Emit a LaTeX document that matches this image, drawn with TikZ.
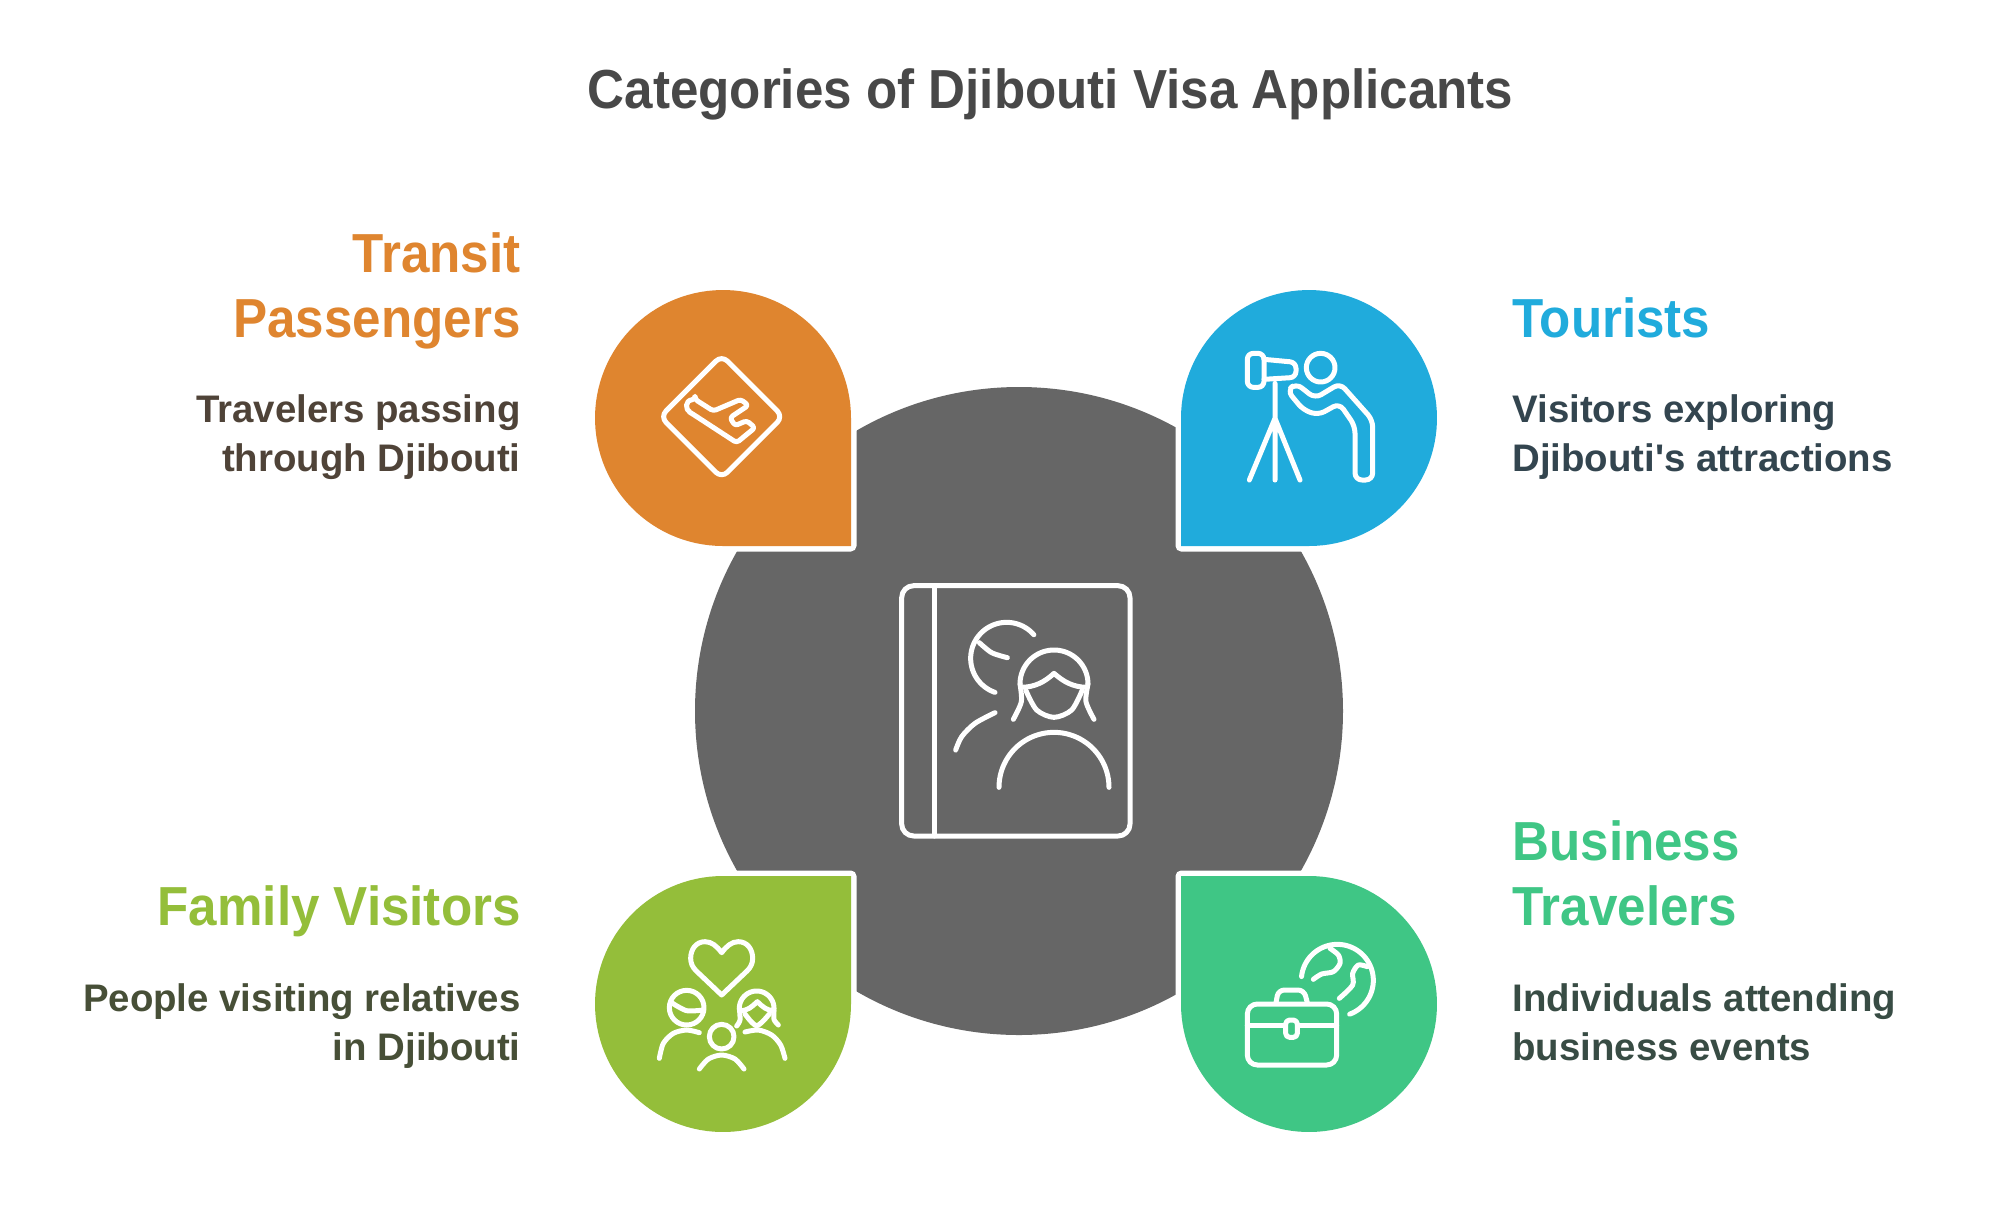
\documentclass[tikz,border=0pt]{standalone}
\usepackage{fontspec}
\newfontfamily\rbfont[FakeStretch=0.93]{Liberation Sans}
\newfontfamily\rbdesc{Liberation Sans}
\definecolor{cOrange}{HTML}{DF852F}
\definecolor{cBlue}{HTML}{20ABDC}
\definecolor{cLime}{HTML}{94BE3A}
\definecolor{cTeal}{HTML}{3FC685}
\definecolor{cGrey}{HTML}{666666}
\definecolor{cTitle}{HTML}{484848}
\definecolor{dOrange}{HTML}{4F4338}
\definecolor{dBlue}{HTML}{33454F}
\definecolor{dLime}{HTML}{474F37}
\definecolor{dTeal}{HTML}{384C44}
\newcommand{\parc}[5]{plot[domain=#4:#5,samples=60] ({#1+#3*cos(\x)},{#2+#3*sin(\x)})}
\newcommand{\dropshape}[6]{\path[#6] (#3,#4) -- plot[domain=#5:#5+270,samples=90] ({#1+128*cos(\x)},{#2+128*sin(\x)}) -- cycle;}
\tikzset{
  iconline/.style={draw=white,line width=2.5pt,line cap=round,line join=round},
  head/.style={inner sep=0pt,font=\rbfont\bfseries\fontsize{27.5}{32.5}\selectfont},
  desc/.style={inner sep=0pt,font=\rbdesc\bfseries\fontsize{19.2}{24.4}\selectfont},
  lefttxt/.style={anchor=base east,align=right},
  righttxt/.style={anchor=base west,align=left},
  halo/.style={draw=white,line width=5.5pt,line join=round},
}
\begin{document}
\begin{tikzpicture}[x=0.5pt,y=-0.5pt]
\useasboundingbox[fill=white] (0,0) rectangle (1999,1207);
% central disc
\fill[cGrey] (1019,711) circle[radius=324];
% drops with white halo
\dropshape{723}{418}{851}{546}{90}{halo}
\dropshape{1309}{418}{1181}{546}{180}{halo}
\dropshape{723}{1004}{851}{876}{0}{halo}
\dropshape{1309}{1004}{1181}{876}{-90}{halo}
\dropshape{723}{418}{851}{546}{90}{fill=cOrange}
\dropshape{1309}{418}{1181}{546}{180}{fill=cBlue}
\dropshape{723}{1004}{851}{876}{0}{fill=cLime}
\dropshape{1309}{1004}{1181}{876}{-90}{fill=cTeal}
% central icon
\begin{scope}[shift={(880,570)},scale=1/3]
\draw[iconline,rounded corners=6pt] (65,47) rectangle (750,798);
\draw[iconline] (162,47) -- (162,798);
\draw[iconline] \parc{380}{265}{108}{-41}{-251};
\draw[iconline] plot[smooth] coordinates {(298,218) (335,248) (382,263)};
\draw[iconline] plot[smooth] coordinates {(345,428) (285,460) (245,500) (227,540)};
\draw[iconline] \parc{522}{342}{102}{-180}{0};
\draw[iconline] plot[smooth] coordinates {(420,342) (424,395) (400,448)};
\draw[iconline] plot[smooth] coordinates {(624,342) (618,395) (642,448)};
\draw[iconline] plot[smooth] coordinates {(438,362) (470,420) (522,442) (575,420) (606,362)};
\draw[iconline] (422,352) .. controls (465,352) and (495,335) .. (522,310) .. controls (550,335) and (580,352) .. (622,352);
\draw[iconline] \parc{522}{652}{165}{180}{360};
\end{scope}
% plane icon
\begin{scope}[shift={(570,270)},scale=1/3]
\draw[iconline,rounded corners=4pt] (455,256) -- (639,440) -- (455,624) -- (271,440) -- cycle;
\draw[iconline,rounded corners=1.5pt] (375,388) -- (430,423) -- (512,388) -- (535,406) -- (480,443) -- (495,467) -- (530,452) -- (555,473) -- (500,518) -- (368,432) .. controls (345,418) and (345,392) .. (375,388) -- cycle;
\end{scope}
% tourist icon
\begin{scope}[shift={(1170,270)},scale=1/3]
\draw[iconline,rounded corners=3pt] (232,250) rectangle (282,352);
\draw[iconline,rounded corners=3pt] (282,268) -- (378,277) -- (378,322) -- (282,328);
\draw[iconline] (452,293) circle[radius=43];
\draw[iconline,rounded corners=3.5pt] (352,362) -- (378,340) -- (435,385) -- (510,340) -- (608,450) -- (608,630) -- (555,630) -- (555,468) -- (508,400) -- (445,435) -- (400,420) -- cycle;
\draw[iconline] (315,340) -- (315,630) (315,445) -- (238,630) (315,445) -- (390,630);
\end{scope}
% family icon
\begin{scope}[shift={(570,860)},scale=1/3]
\draw[iconline] (455,278) .. controls (440,258) and (425,245) .. (405,245) .. controls (378,245) and (362,268) .. (362,295) .. controls (362,310) and (368,322) .. (378,332) -- (455,405) -- (532,332) .. controls (542,322) and (548,310) .. (548,295) .. controls (548,268) and (532,245) .. (505,245) .. controls (485,245) and (470,258) .. (455,278) -- cycle;
\draw[iconline] (350,443) circle[radius=52];
\draw[iconline] plot[smooth] coordinates {(308,430) (350,452) (400,450)};
\draw[iconline] plot[smooth] coordinates {(268,595) (280,550) (310,520) (350,510) (388,518)};
\draw[iconline] \parc{560}{445}{52}{-180}{0};
\draw[iconline] plot[smooth] coordinates {(508,445) (510,480) (500,498)};
\draw[iconline] plot[smooth] coordinates {(612,445) (612,478) (625,495)};
\draw[iconline] (510,452) .. controls (535,452) and (545,440) .. (562,425) .. controls (578,440) and (590,452) .. (612,452);
\draw[iconline] plot[smooth] coordinates {(525,462) (560,497) (598,462)};
\draw[iconline] plot[smooth] coordinates {(525,516) (565,510) (605,525) (632,555) (645,595)};
\draw[iconline] (455,530) circle[radius=37];
\draw[iconline] plot[smooth] coordinates {(388,627) (415,597) (455,585) (495,597) (522,627)};
\end{scope}
% business icon
\begin{scope}[shift={(1170,860)},scale=1/3]
\draw[iconline,rounded corners=5pt] (232,432) rectangle (500,615);
\draw[iconline] (232,497) -- (342,497) (388,497) -- (500,497);
\draw[iconline,rounded corners=2pt] (347,480) rectangle (382,532);
\draw[iconline,rounded corners=3pt] (318,428) -- (325,390) -- (402,390) -- (412,428);
\draw[iconline] \parc{502}{361}{108}{186}{430};
\draw[iconline] plot[smooth] coordinates {(480,265) (505,285) (510,310) (490,335) (455,342) (430,358)};
\draw[iconline] plot[smooth] coordinates {(592,320) (565,315) (548,340) (548,375) (508,415)};
\end{scope}
% texts
\node[inner sep=0pt,anchor=base,text=cTitle,font=\rbfont\bfseries\fontsize{27.5}{32.5}\selectfont] (title) at (1050.5,108) {Categories of Djibouti Visa Applicants};
\node[head,lefttxt,text=cOrange] (transit) at (521,337) {Transit\\Passengers};
\node[desc,lefttxt,text=dOrange] (transitd) at (521,471) {Travelers passing\\through Djibouti};
\node[head,righttxt,text=cBlue] (tourists) at (1512,337) {Tourists};
\node[desc,righttxt,text=dBlue] (touristsd) at (1512,471) {Visitors exploring\\Djibouti's attractions};
\node[head,lefttxt,text=cLime] (family) at (521,925) {Family Visitors};
\node[desc,lefttxt,text=dLime] (familyd) at (521,1060) {People visiting relatives\\in Djibouti};
\node[head,righttxt,text=cTeal] (business) at (1512,925) {Business\\Travelers};
\node[desc,righttxt,text=dTeal] (businessd) at (1512,1060) {Individuals attending\\business events};
\end{tikzpicture}
\end{document}
